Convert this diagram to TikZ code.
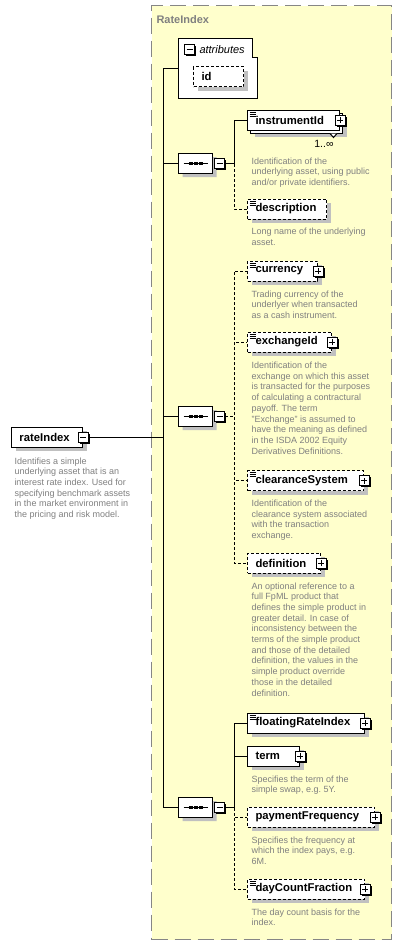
\documentclass[tikz,border=0pt]{standalone}
\usepackage{fontspec}
\setmainfont{Liberation Sans}
\usepackage{tikz}
\usetikzlibrary{positioning,shapes.misc,shadows}

\definecolor{panel}{HTML}{FFFFCC}
\definecolor{frame}{HTML}{868686}
\definecolor{shade}{HTML}{C0C0C0}
\definecolor{docgray}{HTML}{808080}

\begin{document}
\begin{tikzpicture}[
  x=1pt, y=-1pt, line width=1pt,
  tagbox/.style={rectangle, draw=black, fill=white, anchor=west, minimum height=20pt,
                 inner xsep=8pt, inner ysep=0pt, align=left,
                 font=\fontsize{11.3}{13}\selectfont\bfseries},
  elem/.style={tagbox, drop shadow={shadow xshift=4pt, shadow yshift=-4pt, fill=shade, opacity=1}},
  opt/.style={elem, dash pattern=on 3pt off 2pt},
  optline/.style={dash pattern=on 3pt off 2pt},
  docmark/.style={path picture={
      \foreach \ky in {2,4,6}
        \draw[solid, line width=0.8pt] ([xshift=2pt,yshift=-\ky pt]path picture bounding box.north west) -- ++(6pt,0pt);}},
  pmbox/.style={rectangle, draw=black, fill=white, minimum size=10pt, inner sep=0pt, line width=1pt,
                drop shadow={shadow xshift=1.5pt, shadow yshift=-1.5pt, fill=black, opacity=1}},
  minus/.style={pmbox, path picture={
      \draw ([xshift=2pt]path picture bounding box.west) -- ([xshift=-2pt]path picture bounding box.east);}},
  plus/.style={pmbox, path picture={
      \draw ([xshift=2pt]path picture bounding box.west) -- ([xshift=-2pt]path picture bounding box.east);
      \draw ([yshift=2pt]path picture bounding box.south) -- ([yshift=-2pt]path picture bounding box.north);}},
  seq/.style={chamfered rectangle, chamfered rectangle angle=45, chamfered rectangle xsep=5pt,
              draw=black, fill=white, anchor=west,
              minimum width=34pt, minimum height=20pt, inner sep=0pt,
              drop shadow={shadow xshift=4pt, shadow yshift=-4pt, fill=shade, opacity=1},
              path picture={
                \draw[black] ([xshift=5pt]path picture bounding box.west) -- ([xshift=-5pt]path picture bounding box.east);
                \foreach \dx in {-5,0,5}
                  \fill[black] ([xshift=\dx pt-2pt,yshift=-1.5pt]path picture bounding box.center)
                    rectangle ([xshift=\dx pt+2pt,yshift=1.5pt]path picture bounding box.center);}},
  container/.style={rectangle, draw=frame, fill=panel, line width=1.2pt, dash pattern=on 16pt off 7pt,
                    inner sep=0pt, anchor=north west},
  doc/.style={align=left, inner sep=0pt, text=docgray, font=\fontsize{9}{10.7}\selectfont},
]

\fill[white] (0,0) rectangle (402,945);
\useasboundingbox (0,0) rectangle (402,945);

% Complex type frame
\node[container, minimum width=240pt, minimum height=934pt] (ratebox) at (151,5) {};
\node[below right=10pt and 5pt of ratebox.north west, inner sep=0pt, text=docgray,
      font=\fontsize{11}{13}\selectfont\bfseries] (rbtitle) {RateIndex};

% Root element
\node[elem, text width=55pt] (rate) at (11,437) {rateIndex};
\node[minus] (mRate) at (rate.east) {};
\node[doc, below right=9.5pt and 3pt of rate.south west] (rateDoc)
  {Identifies a simple\\underlying asset that is an\\interest rate index. Used for\\specifying benchmark assets\\in the market environment in\\the pricing and risk model.};

% Attributes
\node[anchor=north west, minimum width=78pt, minimum height=59pt, inner sep=0pt] (attr) at (178,38) {};
\draw[fill=white] (attr.north west) -- ([xshift=-5pt]attr.north east) -- ([xshift=-5pt,yshift=-19pt]attr.north east)
  -- ([yshift=-19pt]attr.north east) -- (attr.south east) -- (attr.south west) -- cycle;
\node[minus, below right=6pt and 6pt of attr.north west] (mAttr) {};
\node[right=4pt of mAttr, inner sep=0pt, font=\fontsize{11}{13}\selectfont\itshape] (attrLabel) {attributes};
\node[opt, text width=34pt, below right=28pt and 15pt of attr.north west] (idAttr) {id};

% Sequences
\node[seq] (seqA) at (178,163) {};
\node[minus, right=1pt of seqA] (mA) {};
\node[seq] (seqB) at (178,416) {};
\node[minus, right=1pt of seqB] (mB) {};
\node[seq] (seqC) at (178,807) {};
\node[minus, right=1pt of seqC] (mC) {};

% First sequence
\node[elem, minimum width=92pt] (instrBack) at (250,123) {};
\node[tagbox, docmark, text width=76pt] (instr) at (247,120) {instrumentId};
\node[plus] (pInstr) at (instr.east) {};
\draw[fill=white] ([xshift=-13pt]instrBack.south east) -- ++(3.5,4) -- ++(3.5,-4);
\node[anchor=north east, inner sep=0pt, font=\fontsize{10.5}{12}\selectfont] (occ)
  at ([xshift=-9pt,yshift=-6.5pt]instrBack.south east) {1..∞};
\node[doc, below right=26.5pt and 4pt of instr.south west] (instrDoc)
  {Identification of the\\underlying asset, using public\\and/or private identifiers.};

\node[opt, docmark, text width=63pt] (descr) at (247,209) {description};
\node[doc, below right=8pt and 4pt of descr.south west] (descrDoc)
  {Long name of the underlying\\asset.};

% Second sequence
\node[opt, docmark, text width=54pt] (ccy) at (247,271) {currency};
\node[plus] (pCcy) at (ccy.east) {};
\node[doc, below right=8.5pt and 4pt of ccy.south west] (ccyDoc)
  {Trading currency of the\\underlyer when transacted\\as a cash instrument.};

\node[opt, docmark, text width=68pt] (exch) at (247,342) {exchangeId};
\node[plus] (pExch) at (exch.east) {};
\node[doc, below right=9pt and 4pt of exch.south west] (exchDoc)
  {Identification of the\\exchange on which this asset\\is transacted for the purposes\\of calculating a contractural\\payoff. The term\\"Exchange" is assumed to\\have the meaning as defined\\in the ISDA 2002 Equity\\Derivatives Definitions.};

\node[opt, docmark, text width=100pt] (clear) at (247,480.5) {clearanceSystem};
\node[plus] (pClear) at (clear.east) {};
\node[doc, below right=8.5pt and 4pt of clear.south west] (clearDoc)
  {Identification of the\\clearance system associated\\with the transaction\\exchange.};

\node[opt, text width=57pt] (defn) at (247,563) {definition};
\node[plus] (pDefn) at (defn.east) {};
\node[doc, below right=8.5pt and 4pt of defn.south west] (defnDoc)
  {An optional reference to a\\full FpML product that\\defines the simple product in\\greater detail. In case of\\inconsistency between the\\terms of the simple product\\and those of the detailed\\definition, the values in the\\simple product override\\those in the detailed\\definition.};

% Third sequence
\node[elem, docmark, text width=101pt] (floatIdx) at (247,723) {floatingRateIndex};
\node[plus] (pFloat) at (floatIdx.east) {};

\node[elem, text width=36pt] (term) at (247,756) {term};
\node[plus] (pTerm) at (term.east) {};
\node[doc, below right=8.5pt and 4pt of term.south west] (termDoc)
  {Specifies the term of the\\simple swap, e.g.\ 5Y.};

\node[opt, text width=111pt] (payFreq) at (247,817) {paymentFrequency};
\node[plus] (pPay) at (payFreq.east) {};
\node[doc, below right=8.5pt and 4pt of payFreq.south west] (payDoc)
  {Specifies the frequency at\\which the index pays, e.g.\\6M.};

\node[opt, docmark, text width=101pt] (dcf) at (247,889) {dayCountFraction};
\node[plus] (pDcf) at (dcf.east) {};
\node[doc, below right=8.5pt and 4pt of dcf.south west] (dcfDoc)
  {The day count basis for the\\index.};

% Trunk
\coordinate[left=15pt of attr.west] (trunk);
\draw (attr.west) -- (trunk) |- (seqC.west);
\draw (trunk) |- (seqA.west);
\draw (trunk) |- (seqB.west);
\draw (mRate.east) -- (mRate.east -| trunk);

% Branches
\draw[optline] (mA.east) -- ++(9pt,0pt) |- (descr.west);
\draw (mA.east) -- ++(9pt,0pt) |- (instr.west);

\draw[optline] (mB.east) -- ++(9pt,0pt) |- (ccy.west);
\draw[optline] (mB.east) -- ++(9pt,0pt) |- (exch.west);
\draw[optline] (mB.east) -- ++(9pt,0pt) |- (clear.west);
\draw[optline] (mB.east) -- ++(9pt,0pt) |- (defn.west);

\draw[optline] (mC.east) -- ++(9pt,0pt) |- (payFreq.west);
\draw[optline] (mC.east) -- ++(9pt,0pt) |- (dcf.west);
\draw (mC.east) -- ++(9pt,0pt) |- (floatIdx.west);
\draw (mC.east) -- ++(9pt,0pt) |- (term.west);

\end{tikzpicture}
\end{document}
